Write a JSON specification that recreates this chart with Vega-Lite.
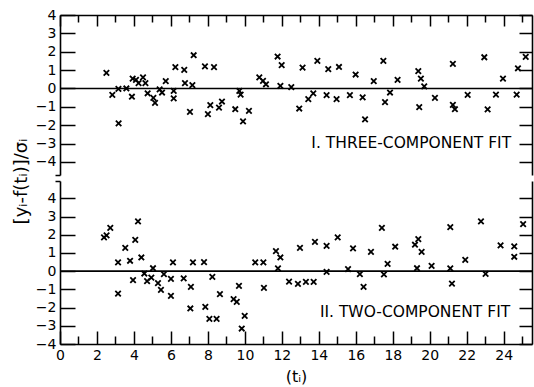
{
  "$schema": "https://vega.github.io/schema/vega-lite/v6.json",
  "padding": {"left": 12, "top": 8, "right": 2, "bottom": 5},
  "spacing": 6,
  "bounds": "flush",
  "config": {
    "view": {"stroke": null},
    "font": "DejaVu Sans",
    "axis": {
      "grid": false,
      "domainColor": "black",
      "domainWidth": 1.6,
      "labelColor": "black",
      "labelFont": "DejaVu Sans",
      "labelFontSize": 14,
      "titleFont": "DejaVu Sans",
      "titleFontWeight": "normal",
      "titleColor": "black",
      "labelFlush": false
    }
  },
  "datasets": {
    "three": [
      {"t": 2.51, "r": 0.85}, {"t": 2.83, "r": -0.35}, {"t": 3.17, "r": -1.9}, {"t": 3.16, "r": -0.02},
      {"t": 3.59, "r": 0.0}, {"t": 3.89, "r": -0.45}, {"t": 3.93, "r": 0.54}, {"t": 4.11, "r": 0.47},
      {"t": 4.25, "r": 0.29}, {"t": 4.49, "r": 0.6}, {"t": 4.62, "r": 0.29}, {"t": 4.74, "r": -0.26},
      {"t": 5.05, "r": -0.51}, {"t": 5.14, "r": -0.78}, {"t": 5.39, "r": -0.05}, {"t": 5.52, "r": -0.22},
      {"t": 5.72, "r": 0.4}, {"t": 6.15, "r": -0.13}, {"t": 6.15, "r": -0.54}, {"t": 6.24, "r": 1.16},
      {"t": 6.72, "r": 1.01}, {"t": 6.76, "r": 0.29}, {"t": 7.03, "r": -1.27}, {"t": 7.16, "r": 0.18},
      {"t": 7.23, "r": 1.81}, {"t": 7.84, "r": 1.2}, {"t": 8.0, "r": -1.4}, {"t": 8.13, "r": -0.91},
      {"t": 8.33, "r": 1.16}, {"t": 8.6, "r": -1.04}, {"t": 8.76, "r": -0.71}, {"t": 9.48, "r": -1.13},
      {"t": 9.7, "r": -0.13}, {"t": 9.77, "r": -0.33}, {"t": 9.9, "r": -1.79}, {"t": 10.22, "r": -1.22},
      {"t": 10.78, "r": 0.6}, {"t": 10.98, "r": 0.41}, {"t": 11.14, "r": 0.23}, {"t": 11.77, "r": 1.74},
      {"t": 11.99, "r": 1.27}, {"t": 11.92, "r": 0.14}, {"t": 12.51, "r": 0.07}, {"t": 12.94, "r": -1.09},
      {"t": 13.12, "r": 1.14}, {"t": 13.43, "r": -0.58}, {"t": 13.7, "r": -0.27}, {"t": 13.92, "r": 1.5},
      {"t": 14.42, "r": -0.36}, {"t": 14.51, "r": 1.05}, {"t": 14.96, "r": -0.58}, {"t": 15.09, "r": 1.17},
      {"t": 15.68, "r": -0.36}, {"t": 15.99, "r": 0.76}, {"t": 16.37, "r": -0.48}, {"t": 16.5, "r": -1.68},
      {"t": 16.97, "r": 0.4}, {"t": 17.49, "r": 1.5}, {"t": 17.58, "r": -0.74}, {"t": 17.85, "r": -0.22},
      {"t": 18.26, "r": 0.47}, {"t": 19.38, "r": 0.94}, {"t": 19.43, "r": -1.02}, {"t": 19.52, "r": 0.54},
      {"t": 19.7, "r": 0.11}, {"t": 20.28, "r": -0.51}, {"t": 21.25, "r": 1.34}, {"t": 21.25, "r": -0.89},
      {"t": 21.36, "r": -1.13}, {"t": 22.05, "r": -0.35}, {"t": 22.95, "r": 1.7}, {"t": 23.13, "r": -1.14},
      {"t": 23.58, "r": -0.33}, {"t": 23.96, "r": 0.54}, {"t": 24.7, "r": -0.33}, {"t": 24.77, "r": 1.1},
      {"t": 25.19, "r": 1.72}
    ],
    "two": [
      {"t": 2.38, "r": 1.85}, {"t": 2.52, "r": 1.96}, {"t": 2.72, "r": 2.38}, {"t": 3.14, "r": 0.48},
      {"t": 3.14, "r": -1.23}, {"t": 3.53, "r": 1.28}, {"t": 3.79, "r": 0.57}, {"t": 3.95, "r": -0.49},
      {"t": 4.07, "r": 1.72}, {"t": 4.22, "r": 2.73}, {"t": 4.4, "r": 0.75}, {"t": 4.56, "r": -0.13},
      {"t": 4.71, "r": -0.55}, {"t": 4.94, "r": -0.35}, {"t": 5.03, "r": 0.16}, {"t": 5.3, "r": -0.66},
      {"t": 5.46, "r": -1.03}, {"t": 5.62, "r": -0.16}, {"t": 6.0, "r": -0.42}, {"t": 6.0, "r": -1.36},
      {"t": 6.11, "r": 0.48}, {"t": 6.69, "r": -0.4}, {"t": 7.08, "r": -0.86}, {"t": 7.05, "r": -2.05},
      {"t": 7.19, "r": 0.48}, {"t": 7.79, "r": 0.49}, {"t": 7.86, "r": -1.96}, {"t": 8.08, "r": -2.62},
      {"t": 8.24, "r": -0.31}, {"t": 8.47, "r": -2.62}, {"t": 8.65, "r": -1.26}, {"t": 9.39, "r": -1.54},
      {"t": 9.56, "r": -1.69}, {"t": 9.68, "r": -0.81}, {"t": 9.83, "r": -3.15}, {"t": 9.99, "r": -2.46},
      {"t": 10.56, "r": 0.48}, {"t": 11.0, "r": 0.48}, {"t": 11.03, "r": -0.92}, {"t": 11.68, "r": 1.1},
      {"t": 11.92, "r": 0.75}, {"t": 11.79, "r": 0.15}, {"t": 12.39, "r": -0.57}, {"t": 12.87, "r": -0.7},
      {"t": 12.98, "r": 1.28}, {"t": 13.3, "r": -0.59}, {"t": 13.72, "r": -0.59}, {"t": 13.79, "r": 1.61},
      {"t": 14.42, "r": 1.39}, {"t": 14.42, "r": -0.04}, {"t": 15.02, "r": 1.85}, {"t": 15.58, "r": 0.11},
      {"t": 15.85, "r": 1.25}, {"t": 16.22, "r": -0.16}, {"t": 16.42, "r": -0.86}, {"t": 16.82, "r": 1.06},
      {"t": 17.41, "r": 2.38}, {"t": 17.52, "r": -0.18}, {"t": 17.72, "r": 0.4}, {"t": 18.13, "r": 1.34},
      {"t": 19.2, "r": 1.45}, {"t": 19.38, "r": 1.76}, {"t": 19.56, "r": 1.06}, {"t": 19.31, "r": 0.16},
      {"t": 20.1, "r": 0.29}, {"t": 21.11, "r": 2.42}, {"t": 21.11, "r": 0.15}, {"t": 21.2, "r": -0.68},
      {"t": 21.92, "r": 0.62}, {"t": 22.77, "r": 2.73}, {"t": 23.02, "r": -0.15}, {"t": 23.83, "r": 1.41},
      {"t": 24.57, "r": 1.36}, {"t": 24.57, "r": 0.79}, {"t": 25.05, "r": 2.58}
    ]
  },
  "vconcat": [
    {
      "width": 472,
      "height": 160,
      "layer": [
        {
          "data": {"name": "three"},
          "mark": {"type": "point", "shape": "M-1,-1L1,1M-1,1L1,-1", "filled": false, "stroke": "black", "strokeWidth": 1.8, "size": 30, "opacity": 1},
          "encoding": {
            "x": {
              "field": "t", "type": "quantitative",
              "scale": {"domain": [0, 25.53], "nice": false, "zero": false},
              "axis": {
                "orient": "top", "title": null, "labels": false,
                "domainColor": "black", "domainWidth": 1.6,
                "ticks": true, "tickColor": "black", "tickWidth": 1.5,
                "tickSize": {"condition": {"test": "datum.value % 2 === 0", "value": -11}, "value": -7},
                "values": [0,1,2,3,4,5,6,7,8,9,10,11,12,13,14,15,16,17,18,19,20,21,22,23,24,25]
              }
            },
            "y": {
              "field": "r", "type": "quantitative",
              "scale": {"domain": [-4.71, 4], "nice": false, "zero": false},
              "axis": {
                "orient": "left",
                "values": [-4.71,-4,-3,-2,-1,0,1,2,3,4],
                "labelExpr": "datum.value < -4.5 ? '' : datum.label",
                "domainColor": "black", "domainWidth": 1.6,
                "ticks": true, "tickColor": "black", "tickWidth": 1.5,
                "tickSize": {"condition": {"test": "datum.value < -4.5", "value": 5}, "value": -15},
                "labelPadding": 19,
                "title": "[yᵢ-f(tᵢ)]/σᵢ",
                "titleFontSize": 18,
                "titleAngle": -90,
                "titleX": -39,
                "titleY": 166,
                "titleAlign": "center",
                "titleBaseline": "middle"
              }
            }
          }
        },
        {
          "data": {"values": [{}]},
          "mark": {"type": "rule", "stroke": "black", "strokeWidth": 1.6},
          "encoding": {
            "y": {
              "datum": 0, "type": "quantitative",
              "axis": {"orient": "right", "title": null, "labels": false, "values": [-4,-3,-2,-1,0,1,2,3,4],
                "domainColor": "black", "domainWidth": 1.6, "ticks": true, "tickColor": "black", "tickWidth": 1.5, "tickSize": -13}
            }
          }
        },
        {
          "data": {"values": [{}]},
          "mark": {"type": "text", "align": "right", "baseline": "middle", "fontSize": 15.5, "font": "DejaVu Sans", "color": "black"},
          "encoding": {
            "x": {"datum": 24.4, "type": "quantitative", "axis": null},
            "y": {"datum": -2.97, "type": "quantitative", "axis": null},
            "text": {"value": "I. THREE-COMPONENT FIT"}
          }
        }
      ],
      "resolve": {"axis": {"x": "independent", "y": "independent"}}
    },
    {
      "width": 472,
      "height": 163,
      "layer": [
        {
          "data": {"name": "two"},
          "mark": {"type": "point", "shape": "M-1,-1L1,1M-1,1L1,-1", "filled": false, "stroke": "black", "strokeWidth": 1.8, "size": 30, "opacity": 1},
          "encoding": {
            "x": {
              "field": "t", "type": "quantitative",
              "scale": {"domain": [0, 25.53], "nice": false, "zero": false},
              "axis": {
                "orient": "bottom", "title": "(tᵢ)", "titleFontSize": 16, "titlePadding": 6,
                "values": [0,1,2,3,4,5,6,7,8,9,10,11,12,13,14,15,16,17,18,19,20,21,22,23,24,25],
                "labelExpr": "datum.value % 2 === 0 ? datum.label : ''",
                "domainColor": "black", "domainWidth": 1.6,
                "ticks": true, "tickColor": "black", "tickWidth": 1.5,
                "tickSize": {"condition": {"test": "datum.value % 2 === 0", "value": -13}, "value": -8},
                "labelPadding": 17
              }
            },
            "y": {
              "field": "r", "type": "quantitative",
              "scale": {"domain": [-4, 4.95], "nice": false, "zero": false},
              "axis": {
                "orient": "left",
                "values": [-4,-3,-2,-1,0,1,2,3,4,4.95],
                "labelExpr": "datum.value > 4.5 ? '' : datum.label",
                "domainColor": "black", "domainWidth": 1.6,
                "ticks": true, "tickColor": "black", "tickWidth": 1.5,
                "tickSize": {"condition": {"test": "datum.value > 4.5", "value": 5}, "value": -15},
                "labelPadding": 19,
                "title": null
              }
            }
          }
        },
        {
          "data": {"values": [{}]},
          "mark": {"type": "rule", "stroke": "black", "strokeWidth": 1.6},
          "encoding": {
            "y": {
              "datum": 0, "type": "quantitative",
              "axis": {"orient": "right", "title": null, "labels": false, "values": [-4,-3,-2,-1,0,1,2,3,4],
                "domainColor": "black", "domainWidth": 1.6, "ticks": true, "tickColor": "black", "tickWidth": 1.5, "tickSize": -13}
            }
          }
        },
        {
          "data": {"values": [{}]},
          "mark": {"type": "text", "align": "right", "baseline": "middle", "fontSize": 15.5, "font": "DejaVu Sans", "color": "black"},
          "encoding": {
            "x": {"datum": 24.35, "type": "quantitative", "axis": null},
            "y": {"datum": -2.27, "type": "quantitative", "axis": null},
            "text": {"value": "II. TWO-COMPONENT FIT"}
          }
        }
      ],
      "resolve": {"axis": {"x": "independent", "y": "independent"}}
    }
  ]
}
